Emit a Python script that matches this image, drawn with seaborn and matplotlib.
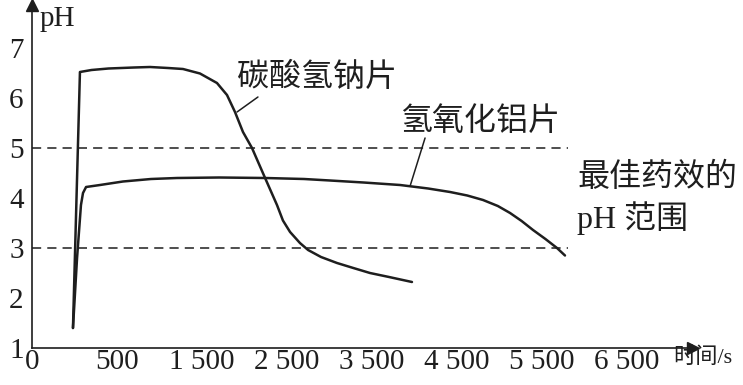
import matplotlib
matplotlib.use("Agg")
import matplotlib.pyplot as plt
import seaborn as sns
import pandas as pd

# data (time in s, pH)
nahco3_t = [241, 282, 350, 450, 600, 694, 800, 888, 988, 1088, 1147, 1194, 1241, 1294, 1371,
            1441, 1476, 1518, 1576, 1624, 1700, 1794, 1890, 1988, 2100, 2235]
nahco3_ph = [1.4, 6.52, 6.56, 6.59, 6.61, 6.62, 6.6, 6.58, 6.49, 6.3, 6.06, 5.72, 5.32, 5.0, 4.4,
             3.86, 3.55, 3.32, 3.1, 2.96, 2.82, 2.7, 2.6, 2.5, 2.42, 2.32]
aloh3_t = [241, 265, 288, 300, 318, 400, 535, 700, 853, 1100, 1371, 1600, 1753, 1950, 2165, 2212,
           2330, 2459, 2560, 2653, 2740, 2812, 2880, 2947, 3020, 3088, 3135]
aloh3_ph = [1.4, 2.8, 3.86, 4.1, 4.22, 4.26, 4.33, 4.38, 4.4, 4.41, 4.4, 4.38, 4.35, 4.31, 4.26, 4.24,
            4.19, 4.12, 4.05, 3.96, 3.84, 3.7, 3.54, 3.36, 3.18, 3.0, 2.85]

x_ticks = [0, 500, 1000, 1500, 2000, 2500, 3000, 3500]
x_labels = ["0", "500", "1 500", "2 500", "3 500", "4 500", "5 500", "6 500"]
y_ticks = [1, 2, 3, 4, 5, 6, 7]
best_range = [3, 5]

df1 = pd.DataFrame({"t": nahco3_t, "pH": nahco3_ph})
df2 = pd.DataFrame({"t": aloh3_t, "pH": aloh3_ph})

sns.set_theme(style="white")
plt.rcParams["font.family"] = ["Liberation Serif", "Noto Sans CJK SC"]
ink = "#1e1e1e"

fig = plt.figure(figsize=(7.43, 3.85), dpi=100)
ax = fig.add_axes([32 / 743, 37 / 385, 661 / 743, 343 / 385])

for d in (df1, df2):
    sns.lineplot(data=d, x="t", y="pH", color=ink, lw=1.8, estimator=None, ax=ax,
                 solid_joinstyle="round", solid_capstyle="round")

for v in best_range:
    ax.plot([0, 3150], [v, v], color=ink, lw=1.1, ls=(0, (6, 4)))

ax.set_xlim(0, 3888)
ax.set_ylim(1, 7.86)
ax.set_xticks(x_ticks)
ax.set_xticklabels(x_labels)
ax.set_yticks(y_ticks)
ax.set_xlabel("")
ax.set_ylabel("")
for s in ["top", "right"]:
    ax.spines[s].set_visible(False)
for s in ["left", "bottom"]:
    ax.spines[s].set_color(ink)
    ax.spines[s].set_linewidth(1.2)
ax.tick_params(axis="both", direction="in", length=5, width=1.1, colors=ink, labelsize=21)
ax.tick_params(axis="x", pad=1)
ax.tick_params(axis="y", pad=6)

# axis arrows
ax.plot(1, 0, ">", color=ink, ms=9, transform=ax.transAxes, clip_on=False)
ax.plot(0, 1, "^", color=ink, ms=9, transform=ax.transAxes, clip_on=False)

ax.text(47, 7.58, "pH", fontsize=21, color=ink, va="center", ha="left")
ax.text(3771, 0.8, "时间/s", fontsize=16, color=ink, va="center", ha="left")

ax.text(1206, 6.4, "碳酸氢钠片", fontsize=23, color=ink, va="center", ha="left")
ax.plot([1329, 1206], [6.02, 5.72], color=ink, lw=1.1)
ax.text(2165, 5.52, "氢氧化铝片", fontsize=23, color=ink, va="center", ha="left")
ax.plot([2312, 2224], [5.2, 4.24], color=ink, lw=1.1)
ax.text(3206, 4.4, "最佳药效的", fontsize=23, color=ink, va="center", ha="left")
ax.text(3206, 3.6, "pH 范围", fontsize=23, color=ink, va="center", ha="left")

fig.savefig("out.png", dpi=100)
